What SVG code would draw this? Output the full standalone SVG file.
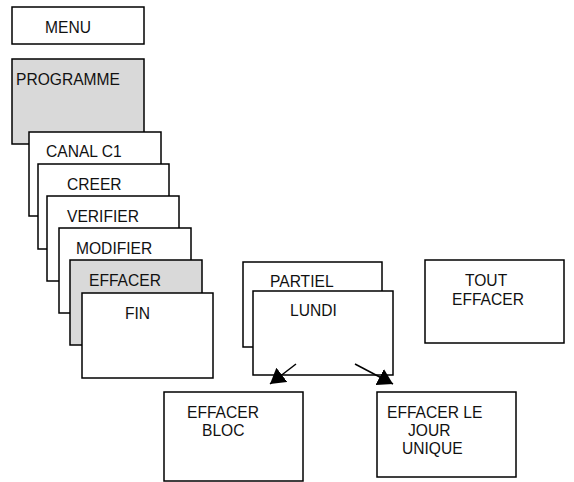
<svg xmlns="http://www.w3.org/2000/svg" width="574" height="482" viewBox="0 0 574 482">
<style>
.b{fill:#fff;stroke:#000;stroke-width:1.5}
.g{fill:#d9d9d9;stroke:#000;stroke-width:1.5}
text{font-family:"Liberation Sans",Arial,sans-serif;font-size:15.6px;fill:#111}
.c{stroke:#000;stroke-width:1.5;fill:none}
</style>
<defs>
<marker id="ah" markerUnits="userSpaceOnUse" markerWidth="18" markerHeight="18" refX="15" refY="9" orient="auto">
<path d="M0,0 L15,9 L0,18 Z" fill="#000"/>
</marker>
</defs>
<rect x="0" y="0" width="574" height="482" fill="#fff"/>
<g id="menu"><rect class="b" x="12" y="7" width="132" height="37"/><text x="45" y="33">MENU</text></g>
<g id="programme"><rect class="g" x="12" y="59" width="132" height="85"/><text x="16" y="85">PROGRAMME</text></g>
<g id="canal"><rect class="b" x="29" y="132" width="132" height="84"/><text x="46" y="157">CANAL C1</text></g>
<g id="creer"><rect class="b" x="38" y="164" width="131" height="85"/><text x="67" y="190">CREER</text></g>
<g id="verifier"><rect class="b" x="47" y="196" width="132" height="85"/><text x="67" y="222">VERIFIER</text></g>
<g id="modifier"><rect class="b" x="59" y="228" width="132" height="85"/><text x="76" y="254">MODIFIER</text></g>
<g id="effacer"><rect class="g" x="70" y="260" width="132" height="85"/><text x="89" y="286">EFFACER</text></g>
<g id="fin"><rect class="b" x="82" y="293" width="131" height="85"/><text x="125" y="319">FIN</text></g>
<g id="partiel"><rect class="b" x="243" y="262" width="139" height="85"/><text x="270" y="287">PARTIEL</text></g>
<g id="lundi"><rect class="b" x="253" y="291" width="140" height="84"/><text x="290" y="316">LUNDI</text></g>
<g id="tout"><rect class="b" x="425" y="260" width="139" height="83"/><text x="465" y="286">TOUT</text><text x="452" y="305">EFFACER</text></g>
<g id="bloc"><rect class="b" x="164" y="392" width="139" height="89"/><text x="187" y="418">EFFACER</text><text x="202" y="436">BLOC</text></g>
<g id="jour"><rect class="b" x="377" y="392" width="139" height="85"/><text x="387" y="418">EFFACER LE</text><text x="408" y="436">JOUR</text><text x="402" y="454">UNIQUE</text></g>
<g id="connectors">
<line class="c" x1="296" y1="364" x2="270" y2="384" marker-end="url(#ah)"/>
<line class="c" x1="355" y1="364" x2="393" y2="384" marker-end="url(#ah)"/>
</g>
</svg>
